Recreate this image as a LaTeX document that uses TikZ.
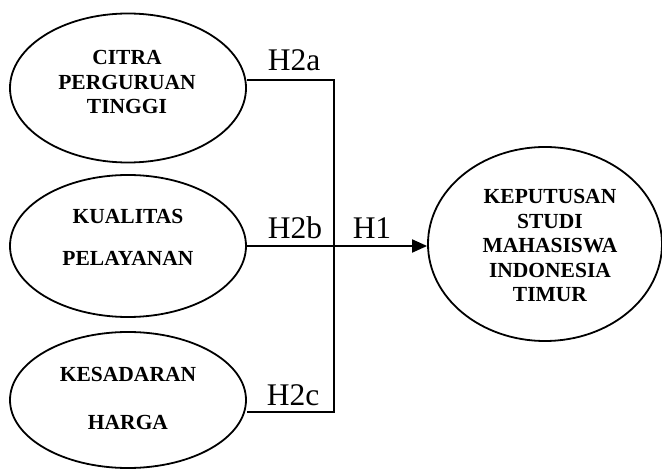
\documentclass[tikz,border=0pt]{standalone}
\usepackage{fontspec}
\setmainfont{Liberation Serif}
\usetikzlibrary{shapes.geometric,arrows.meta}
\begin{document}
\begin{tikzpicture}[x=1pt,y=-1pt,
  construct/.style={draw,ellipse,line width=1.8pt,inner sep=0pt},
  ctext/.style={anchor=base,align=center,inner sep=0pt,font=\fontsize{21.5}{24.5}\selectfont\bfseries},
  hlabel/.style={anchor=base,inner sep=0pt,font=\fontsize{31.5}{36}\selectfont},
  link/.style={line width=1.9pt},
  ]
\useasboundingbox (0,0) rectangle (662,470);
% ellipses
\node[construct,minimum width=236pt,minimum height=149pt] (e1) at (128,88) {};
\node[construct,minimum width=236pt,minimum height=142pt] (e2) at (128,246) {};
\node[construct,minimum width=236pt,minimum height=136pt] (e3) at (128,400) {};
\node[construct,minimum width=234pt,minimum height=194pt] (e4) at (545,244) {};
% texts (base anchor = baseline of last line)
\node[ctext] (t1) at (127,114) {CITRA\\PERGURUAN\\TINGGI};
\node[ctext] (t2) at (128,266) {KUALITAS\\[17.5pt]PELAYANAN};
\node[ctext] (t3) at (128,430) {KESADARAN\\[23.5pt]HARGA};
\node[ctext] (t4) at (550,302) {KEPUTUSAN\\STUDI\\MAHASISWA\\INDONESIA\\TIMUR};
% connectors
\coordinate (ja) at (334,80);
\coordinate (jc) at (334,412);
\draw[link] ([yshift=8pt]e1.east) -- (ja) -- (jc) -- ([yshift=-12pt]e3.east);
\draw[link,-{Triangle[length=15pt,width=13pt]}] (e2.east) -- (e2.east -| e4.west);
% labels
\node[hlabel] (h2a) at (294,71) {H2a};
\node[hlabel] (h2b) at (295,239) {H2b};
\node[hlabel] (h1) at (372,239) {H1};
\node[hlabel] (h2c) at (293,406) {H2c};
\end{tikzpicture}
\end{document}
